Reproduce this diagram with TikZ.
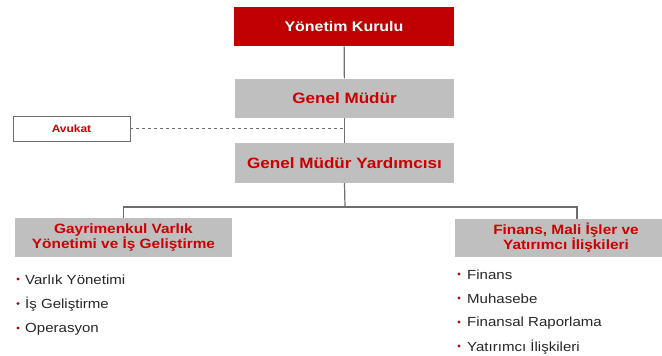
\documentclass[tikz,border=0pt]{standalone}
\usepackage{fontspec}
\setmainfont{Liberation Sans}[FakeStretch=1.14]
\usepackage{xcolor}
\usepackage{tikz}
\usetikzlibrary{positioning, calc}
\definecolor{orgred}{RGB}{192,0,0}
\definecolor{orgtitle}{RGB}{204,0,0}
\definecolor{orggrey}{RGB}{191,191,191}
\definecolor{orgline}{RGB}{110,110,110}
\definecolor{orgtext}{RGB}{38,38,38}

\tikzset{
  boardbox/.style={fill=orgred, text=white, inner sep=0pt, minimum width=220pt, minimum height=39pt, font=\fontsize{14}{16}\selectfont\bfseries},
  greybox/.style={fill=orggrey, text=orgtitle, inner sep=0pt, minimum height=39pt, font=\fontsize{15}{17}\selectfont\bfseries},
  unitbox/.style={fill=orggrey, text=orgtitle, inner sep=0pt, minimum height=39pt, align=center, font=\fontsize{13.5}{15}\selectfont\bfseries},
  lawbox/.style={draw=orgline, fill=white, text=orgtitle, inner sep=0pt, minimum width=117pt, minimum height=25pt, font=\fontsize{10.5}{12}\selectfont\bfseries},
  conn/.style={draw=orgline, line width=1.2pt},
  item/.style={anchor=west, inner sep=0pt, text=orgtext, font=\fontsize{13.2}{15}\selectfont}
}

\begin{document}
\begin{tikzpicture}[x=1pt,y=-1pt]
\useasboundingbox (0,0) rectangle (662,356);
% Top of the chart
\node[boardbox] (board) at (344,26.5) {Yönetim Kurulu};
\node[greybox,minimum width=219pt] (gm) at (344.5,98) {Genel Müdür};
\node[lawbox] (lawyer) at (71.5,128.5) {Avukat};
\node[greybox,minimum width=219pt,minimum height=40pt] (gmy) at (344.5,163) {Genel Müdür Yardımcısı};
% Units
\node[unitbox,minimum width=217pt] (reit) at (123.5,237.5) {Gayrimenkul Varlık\\Yönetimi ve İş Geliştirme};
\node[unitbox,minimum width=222pt,minimum height=38pt] (fin) at (566,238) {Finans, Mali İşler ve\\Yatırımcı İlişkileri};
\coordinate (bar) at (345,207);
\coordinate (fintop) at (577,219);
% Connectors
\draw[conn] (board) -- (gm);
\draw[conn] (gm) -- (gmy);
\draw[conn,line width=1pt,dashed] (lawyer.east) -- (lawyer.east -| gm.south);
\draw[conn] (gmy.south) -- (bar);
\draw[conn] (reit.north) |- (bar) -| (fintop);
% Sub items
\foreach \txt [count=\i] in {Varlık Yönetimi, İş Geliştirme, Operasyon} {
  \node[item] (ri\i) at (25,{280+24.5*(\i-1)}) {\txt};
  \fill[orgred] ($(ri\i.west)+(-7,-1)$) circle (1.7pt);
}
\foreach \txt [count=\i] in {Finans, Muhasebe, Finansal Raporlama, Yatırımcı İlişkileri} {
  \node[item] (fi\i) at (467,{275+24*(\i-1)}) {\txt};
  \fill[orgred] ($(fi\i.west)+(-8,-1)$) circle (1.7pt);
}
\end{tikzpicture}
\end{document}
